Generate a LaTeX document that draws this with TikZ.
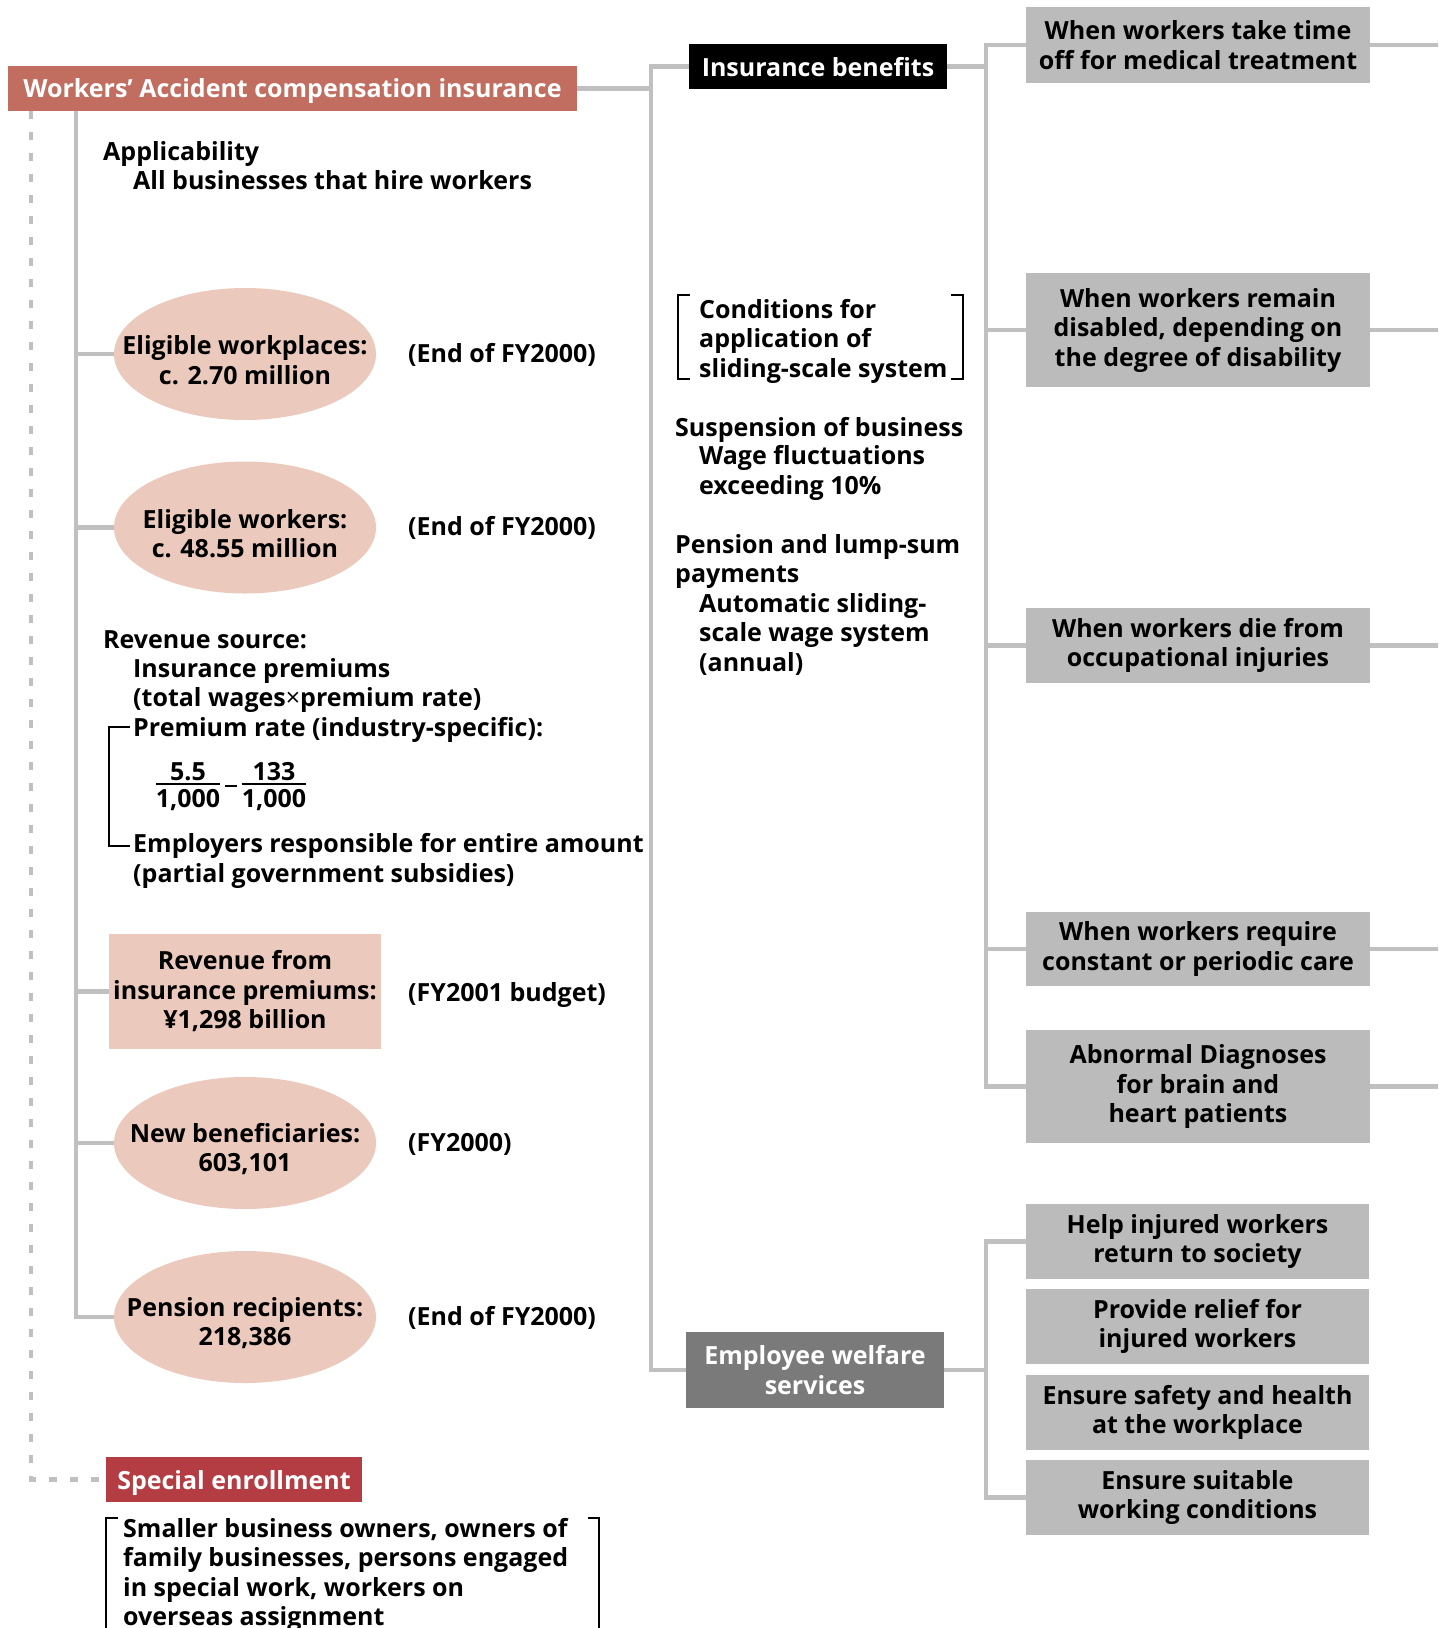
\documentclass[tikz,border=0pt]{standalone}
\usepackage{fontspec}
\setmainfont{Open Sans}
\usetikzlibrary{shapes.geometric}
\definecolor{titlered}{RGB}{193,110,96}
\definecolor{specialred}{RGB}{179,61,67}
\definecolor{ovalpink}{RGB}{235,202,189}
\definecolor{boxgrey}{RGB}{187,187,187}
\definecolor{darkgrey}{RGB}{122,122,122}
\definecolor{linegrey}{RGB}{192,192,192}
\tikzset{
    every node/.style={font=\fontsize{25}{29.5}\selectfont\bfseries, inner sep=0pt},
    txt/.style={anchor=base west, align=left},
    oval/.style={ellipse, fill=ovalpink, minimum width=262, minimum height=132},
    ovaltxt/.style={align=center, yshift=-6pt},
    headbox/.style={text=white, minimum height=45, text depth=0pt, align=center},
    greybox/.style={fill=boxgrey, minimum width=344, align=center},
    bar/.style={draw=linegrey, line width=4.5},
    dashbar/.style={draw=linegrey, line width=4.5, dash pattern=on 8pt off 13pt},
    brk/.style={draw=black, line width=2}
}

\begin{document}
\begin{tikzpicture}[x=1pt, y=-1pt]
    \clip (0,0) rectangle (1438,1628);
    \fill[white] (0,0) rectangle (1438,1628);

    \coordinate (dash) at (31,0);
    \coordinate (spine) at (76,0);
    \coordinate (trunk) at (651,0);
    \coordinate (branch) at (986,0);
    \coordinate (edge) at (1440,0);

    \node (title) at (292.5,88.5) [headbox, fill=titlered, minimum width=569] {Workers’ Accident compensation insurance};
    \node (benefit) at (818,66.5) [headbox, fill=black, minimum width=258] {Insurance benefits};
    \node (welfare) at (815,1370) [headbox, fill=darkgrey, minimum width=258, minimum height=76] {Employee welfare\\services};
    \node (special) at (234,1479.5) [headbox, fill=specialred, minimum width=256] {Special enrollment};

    \node (appl) at (103,160) [txt] {Applicability};
    \node (applall) at (133,189) [txt] {All businesses that hire workers};

    \node (wplace) at (245,354) [oval] {};
    \node (wplacetxt) at (wplace) [ovaltxt] {Eligible workplaces:\\c. 2.70 million};
    \node (wkers) at (245,527.5) [oval] {};
    \node (wkerstxt) at (wkers) [ovaltxt] {Eligible workers:\\c. 48.55 million};
    \node (rev) at (245,991.5) [fill=ovalpink, minimum width=272, minimum height=115, align=center] {Revenue from\\insurance premiums:\\¥1,298 billion};
    \node (newb) at (245,1143) [oval] {};
    \node (newbtxt) at (newb) [ovaltxt] {New beneficiaries:\\603,101};
    \node (penr) at (245,1317) [oval] {};
    \node (penrtxt) at (penr) [ovaltxt] {Pension recipients:\\218,386};

    \node (wplacedate) at (408,362) [txt] {(End of FY2000)};
    \node (wkersdate) at (408,535) [txt] {(End of FY2000)};
    \node (revdate) at (408,1001) [txt] {(FY2001 budget)};
    \node (newbdate) at (408,1151) [txt] {(FY2000)};
    \node (penrdate) at (408,1325) [txt] {(End of FY2000)};

    \node (revsrc) at (103,648) [txt] {Revenue source:};
    \node (revprem) at (133,736) [txt] {Insurance premiums\\(total wages{\mdseries ×}premium rate)\\Premium rate (industry-specific):};
    \node (numa) at (188,780) [anchor=base] {5.5};
    \node (dena) at (188,807) [anchor=base] {1,000};
    \node (numb) at (274,780) [anchor=base] {133};
    \node (denb) at (274,807) [anchor=base] {1,000};
    \draw[line width=2] (dena.west |- 0,784) -- (dena.east |- 0,784);
    \draw[line width=2] (denb.west |- 0,784) -- (denb.east |- 0,784);
    \draw[line width=2] (225,786) -- (237,786);
    \node (revemp) at (133,882) [txt] {Employers responsible for entire amount\\(partial government subsidies)};
    \draw[brk] (130,727) -- (109,727) -- (109,846) -- (130,846);

    \node (cond) at (699,377) [txt] {Conditions for\\application of\\sliding-scale system};
    \draw[brk] (690,295) -- (678,295) -- (678,379) -- (690,379);
    \draw[brk] (951,295) -- (963,295) -- (963,379) -- (951,379);
    \node (susp) at (675,436) [txt] {Suspension of business};
    \node (suspwage) at (699,494) [txt] {Wage fluctuations\\exceeding 10\%};
    \node (pens) at (675,582.5) [txt] {Pension and lump-sum\\payments};
    \node (pensauto) at (699,671) [txt] {Automatic sliding-\\scale wage system\\(annual)};

    \node (ben1) at (1198,45) [greybox, minimum height=76] {When workers take time\\off for medical treatment};
    \node (ben2) at (1198,330) [greybox, minimum height=114] {When workers remain\\disabled, depending on\\the degree of disability};
    \node (ben3) at (1198,645.5) [greybox, minimum height=75] {When workers die from\\occupational injuries};
    \node (ben4) at (1198,949) [greybox, minimum height=74] {When workers require\\constant or periodic care};
    \node (ben5) at (1198,1086.5) [greybox, minimum height=113] {Abnormal Diagnoses\\for brain and\\heart patients};

    \node (wel1) at (1197.5,1241.5) [greybox, minimum width=343, minimum height=75] {Help injured workers\\return to society};
    \node (wel2) at (1197.5,1326.5) [greybox, minimum width=343, minimum height=75] {Provide relief for\\injured workers};
    \node (wel3) at (1197.5,1412.5) [greybox, minimum width=343, minimum height=75] {Ensure safety and health\\at the workplace};
    \node (wel4) at (1197.5,1497.5) [greybox, minimum width=343, minimum height=75] {Ensure suitable\\working conditions};

    \node (spectxt) at (123,1625.5) [txt] {Smaller business owners, owners of\\family businesses, persons engaged\\in special work, workers on\\overseas assignment};
    \draw[brk] (118,1518) -- (106,1518) -- (106,1640);
    \draw[brk] (588,1518) -- (599,1518) -- (599,1640);

    \draw[dashbar] (title.south -| dash) |- (special.west);
    \draw[bar] (title.south -| spine) |- (penr.west);
    \foreach \n in {wplace, wkers, rev, newb}
        \draw[bar] (spine |- \n.west) -- (\n.west);

    \draw[bar] (title.east) -- (trunk |- title.east);
    \draw[bar] (benefit.west) -| (trunk |- welfare.west) -- (welfare.west);

    \draw[bar] (benefit.east) -- (branch |- benefit.east);
    \draw[bar] (ben1.west) -| (branch |- ben5.west) -- (ben5.west);
    \foreach \n in {ben2, ben3, ben4}
        \draw[bar] (branch |- \n.west) -- (\n.west);
    \foreach \n in {ben1, ben2, ben3, ben4, ben5}
        \draw[bar] (\n.east) -- (edge |- \n.east);

    \draw[bar] (welfare.east) -- (branch |- welfare.east);
    \draw[bar] (wel1.west) -| (branch |- wel4.west) -- (wel4.west);
\end{tikzpicture}
\end{document}
